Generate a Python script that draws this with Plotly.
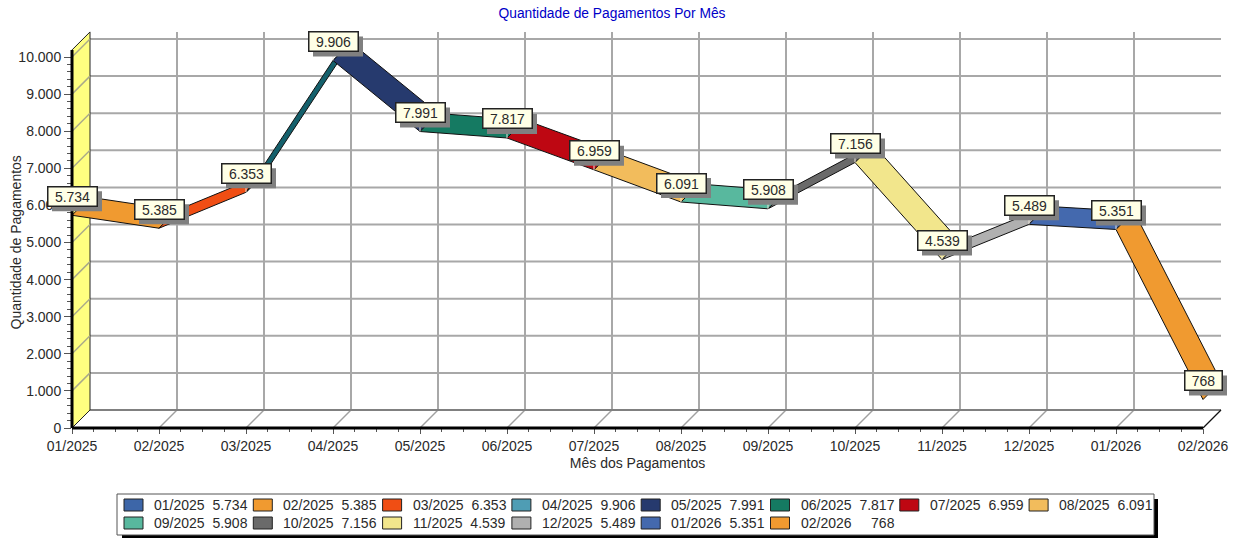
import plotly.graph_objects as go

months = ["01/2025","02/2025","03/2025","04/2025","05/2025","06/2025","07/2025",
          "08/2025","09/2025","10/2025","11/2025","12/2025","01/2026","02/2026"]
values = [5734,5385,6353,9906,7991,7817,6959,6091,5908,7156,4539,5489,5351,768]
legend_colors = ["#3D66A8","#F09A30","#F04E14","#4F9DB4","#263A6E","#157A62","#BE0712",
                 "#F2BC5C","#58B89E","#6A6A6A","#F2E68C","#B0B0B0","#4469AE","#F09A30"]
ribbon_colors = ["#3D66A8","#F09A30","#F04E14","#14606C","#263A6E","#157A62","#BE0712",
                 "#F2BC5C","#58B89E","#6A6A6A","#F2E68C","#B0B0B0","#4469AE","#F09A30"]
y_ticks = list(range(0, 10001, 1000))
y_title = "Quantidade de Pagamentos"

last = len(months) - 1
# front plane and full drawing area, in page pixels
FL, FR, FT, FB = 72, 1203, 57, 428
L, R, T, B = 30, 1240, 25, 435
UX = (FR-FL)/last            # px per month
UY = (FB-FT)/10000.0         # px per value unit
DX = 18/UX
DY = 18/UY
WALL_TOP = 10190
GRID = "#A8A8A8"
TEXT = "#2A2A2A"

def fmt(v):
    return f"{v:,}".replace(",", ".")

def legend_name(m, v):
    s = fmt(v)
    pad = "\u00a0" * (2 if len(s) == 5 else 5)
    return m + pad + s

def px(x): return (x-L)/(R-L)
def py(y): return (B-y)/(B-T)

fig = go.Figure()

def seg(x, y, color, width):
    fig.add_trace(go.Scatter(x=x, y=y, xaxis="x2", yaxis="y2", mode="lines", showlegend=False,
                             hoverinfo="skip", line=dict(color=color, width=width)))

# keeps the tick-bearing front axes alive
fig.add_trace(go.Scatter(x=[0], y=[0], mode="lines", showlegend=False, hoverinfo="skip"))

# back-plane grid
for t in y_ticks[1:]:
    seg([DX, last+DX], [t+DY, t+DY], GRID, 2)
for i in range(1, last):
    seg([i+DX, i+DX], [DY, WALL_TOP+DY], GRID, 2)
for i in range(1, last):
    seg([i, i+DX], [0, DY], "#A0A0A0", 1.5)
seg([DX, last+DX], [DY, DY], "#808080", 2)
seg([last, last+DX], [0, DY], "#111111", 1.2)

# left wall
fig.add_trace(go.Scatter(x=[0, DX, DX, 0, 0], y=[0, DY, WALL_TOP+DY, WALL_TOP, 0], xaxis="x2", yaxis="y2",
                         mode="lines", fill="toself", fillcolor="#FFFF80", line=dict(color="#222222", width=1),
                         showlegend=False, hoverinfo="skip"))
for t in y_ticks[1:]:
    seg([0, DX], [t, t+DY], "#A9A98A", 1.5)

# ribbons
for i in range(last):
    a, b = values[i], values[i+1]
    fig.add_trace(go.Scatter(x=[i, i+1, i+1+DX, i+DX, i], y=[a, b, b+DY, a+DY, a], xaxis="x2", yaxis="y2",
                             mode="lines", fill="toself", fillcolor=ribbon_colors[i+1],
                             line=dict(color="#101010", width=1),
                             showlegend=False, hoverinfo="skip"))
# pale notches at the ribbon joints
for i in range(2, last):
    seg([i, i], [values[i], values[i] + 5/UY], "#EDE6DA", 1)

# front axis lines
seg([0, 0], [0, WALL_TOP], "#000000", 3)
seg([0, last], [0, 0], "#000000", 3)

annotations = []
shapes = []
for i, v in enumerate(values):
    hw = 25 if v >= 1000 else 19
    shapes.append(dict(type="rect", xref="x2", yref="y2", xsizemode="pixel", ysizemode="pixel",
                       xanchor=i, yanchor=v, x0=-hw+5, x1=hw+5, y0=4, y1=24,
                       fillcolor="#808080", line=dict(width=0)))
    annotations.append(dict(x=i, y=v, xref="x2", yref="y2", text=fmt(v), showarrow=False,
                            xshift=0, yshift=19, width=2*hw-2, height=18, borderpad=0, align="center",
                            bgcolor="#FFFFE6", borderwidth=1.5, bordercolor="#222222",
                            font=dict(family="Liberation Sans", size=14, color=TEXT)))

annotations.append(dict(x=0, y=5000, xref="x", yref="y", xshift=FL and -57, text=y_title, textangle=-90,
                        showarrow=False, font=dict(family="Liberation Sans", size=14, color=TEXT)))

shapes += [
    dict(type="rect", xref="paper", yref="paper", x0=px(122), x1=px(1158), y0=py(499), y1=py(538),
         fillcolor="#000000", line=dict(width=0)),
    dict(type="rect", xref="paper", yref="paper", x0=px(117), x1=px(1154), y0=py(494), y1=py(535),
         fillcolor="white", line=dict(width=1, color="#555555")),
]
LEG_COLS = 8
for k, (m, v, c) in enumerate(zip(months, values, legend_colors)):
    col, row = k % LEG_COLS, k // LEG_COLS
    lx = 124 + col*129.3
    ly = 505 + row*18
    shapes.append(dict(type="rect", xref="paper", yref="paper", x0=px(lx), x1=px(lx+19),
                       y0=py(ly-6), y1=py(ly+6), fillcolor=c, line=dict(width=1, color="#222222")))
    annotations.append(dict(x=px(lx+30), y=py(ly), xref="paper", yref="paper", xanchor="left", yanchor="middle",
                            text=legend_name(m, v), showarrow=False, align="left", xshift=-2,
                            font=dict(family="Liberation Sans", size=14, color=TEXT)))

fig.update_layout(
    width=1243, height=539, autosize=False,
    margin=dict(l=L, r=1243-R, t=T, b=539-B, pad=0),
    paper_bgcolor="white", plot_bgcolor="rgba(0,0,0,0)",
    separators=",.", showlegend=False,
    font=dict(family="Liberation Sans", size=14, color=TEXT),
    title=dict(text="Quantidade de Pagamentos Por Mês", x=612/1243, xanchor="center", xref="container",
               y=1-13/539, yanchor="middle", font=dict(family="Liberation Sans", size=13.8, color="#0000C8")),
    xaxis=dict(domain=[px(FL), px(FR)], anchor="y", range=[0, last], tickmode="array",
               tickvals=list(range(len(months))), ticktext=months, automargin=False,
               showgrid=False, zeroline=False, showline=False, ticks="outside", ticklen=5, tickwidth=1,
               tickcolor="#555555", tickfont=dict(size=14, color=TEXT), tickangle=0,
               minor=dict(dtick=0.25, tick0=0, ticks="outside", ticklen=3, tickcolor="#555555", showgrid=False),
               title=dict(text="Mês dos Pagamentos", font=dict(size=14, color=TEXT), standoff=5)),
    yaxis=dict(domain=[py(FB), py(FT)], anchor="x", range=[0, 10000], tickmode="array", tickvals=y_ticks,
               tickformat=",d", automargin=False,
               showgrid=False, zeroline=False, showline=False, ticks="outside", ticklen=7, tickwidth=1,
               tickcolor="#555555", tickfont=dict(size=14, color=TEXT),
               minor=dict(dtick=200, tick0=0, ticks="outside", ticklen=4, tickcolor="#555555", showgrid=False)),
    xaxis2=dict(domain=[0, 1], anchor="y2", range=[(L-FL)/UX, (R-FL)/UX], visible=False),
    yaxis2=dict(domain=[0, 1], anchor="x2", range=[(FB-B)/UY, (FB-T)/UY], visible=False),
    shapes=shapes,
    annotations=annotations,
    hovermode=False,
)
fig.write_html("out.html", config=dict(displayModeBar=False), post_script="document.body.style.margin='0';")
